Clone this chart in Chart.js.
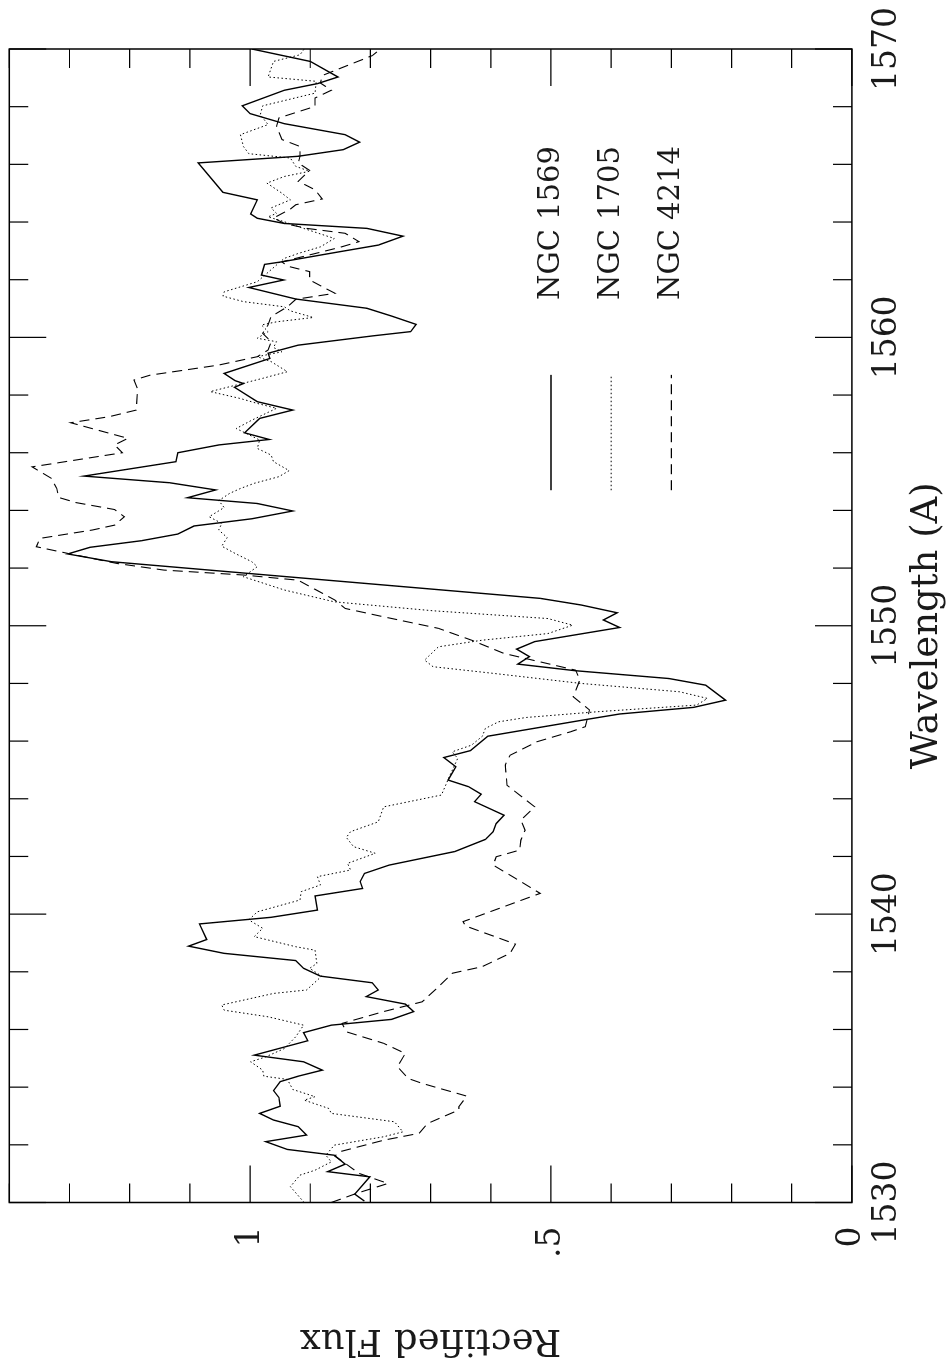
<!DOCTYPE html>
<html>
<head>
<meta charset="utf-8">
<title>Rectified Flux vs Wavelength</title>
<script src="https://cdn.jsdelivr.net/npm/chart.js@4.4.1/dist/chart.umd.min.js"></script>
<style>
  html, body { margin: 0; padding: 0; background: #fff; overflow: hidden; }
  #page { position: relative; width: 951px; height: 1367px; overflow: hidden; }
  /* the figure is drawn landscape and turned a quarter turn counter-clockwise */
  #spec { position: absolute; left: 0; top: 0; width: 1367px; height: 951px;
          transform-origin: 0 0; transform: translateY(1367px) rotate(-90deg); }
</style>
</head>
<body>
<div id="page"><canvas id="spec" width="1367" height="951"></canvas></div>
<script>
  'use strict';

  // Axis ticks
  const waveTicks = [1530, 1540, 1550, 1560, 1570];
  const fluxTicks = [0, 0.5, 1];
  const fluxTickText = ['0', '.5', '1'];

  // Series names
  const seriesNames = ['NGC 1569', 'NGC 1705', 'NGC 4214'];

  // NGC 1569 (solid)
  const wave1569 = [1530.05, 1530.29, 1530.89, 1531.07, 1531.33, 1531.64, 1531.84, 1532.11, 1532.34, 1532.63,
    1532.86, 1533.09, 1533.34, 1533.64, 1533.88, 1534.19, 1534.38, 1534.59, 1534.88, 1535.11,
    1535.61, 1535.89, 1536.15, 1536.35, 1536.62, 1536.88, 1537.14, 1537.37, 1537.62, 1537.85,
    1538.12, 1538.39, 1538.64, 1538.89, 1539.12, 1539.66, 1539.89, 1540.14, 1540.63, 1540.89,
    1541.13, 1541.41, 1541.70, 1542.17, 1542.59, 1542.86, 1543.14, 1543.43, 1543.90, 1544.16,
    1544.42, 1544.65, 1545.11, 1545.43, 1545.67, 1546.17, 1546.75, 1546.94, 1547.17, 1547.42,
    1547.94, 1548.17, 1548.44, 1548.67, 1548.93, 1549.19, 1549.45, 1549.94, 1550.20, 1550.45,
    1550.72, 1550.95, 1552.22, 1552.49, 1552.72, 1552.95, 1553.18, 1553.46, 1553.71, 1553.98,
    1554.24, 1554.44, 1554.71, 1554.96, 1555.19, 1555.69, 1556.00, 1556.27, 1556.46, 1556.69,
    1557.19, 1557.48, 1557.77, 1558.27, 1558.40, 1558.50, 1558.75, 1559.27, 1559.45, 1559.73,
    1560.05, 1560.20, 1560.45, 1560.74, 1561.01, 1561.33, 1561.73, 1561.99, 1562.16, 1562.53,
    1562.62, 1562.97, 1563.20, 1563.51, 1563.78, 1563.95, 1564.13, 1564.28, 1564.77, 1565.03,
    1566.05, 1566.28, 1566.51, 1566.77, 1567.03, 1567.41, 1567.76, 1568.03, 1568.57, 1568.80,
    1569.03, 1569.57, 1570.00];
  const flux1569 = [0.81, 0.826, 0.801, 0.871, 0.842, 0.86, 0.938, 0.974, 0.906, 0.92,
    0.961, 0.984, 0.95, 0.952, 0.961, 0.95, 0.92, 0.88, 0.911, 0.993,
    0.904, 0.911, 0.865, 0.765, 0.728, 0.742, 0.807, 0.787, 0.797, 0.883,
    0.911, 0.924, 1.043, 1.102, 1.072, 1.084, 0.965, 0.888, 0.892, 0.813,
    0.817, 0.81, 0.769, 0.66, 0.609, 0.596, 0.591, 0.578, 0.627, 0.616,
    0.637, 0.671, 0.658, 0.678, 0.634, 0.605, 0.441, 0.386, 0.263, 0.21,
    0.243, 0.304, 0.459, 0.555, 0.536, 0.557, 0.527, 0.386, 0.413, 0.39,
    0.45, 0.518, 1.23, 1.303, 1.266, 1.18, 1.12, 1.093, 0.997, 0.929,
    0.988, 1.104, 1.057, 1.134, 1.276, 1.123, 1.12, 1.052, 0.968, 1.009,
    0.984, 0.929, 0.988, 1.026, 1.011, 1.025, 1.043, 0.967, 0.97, 0.92,
    0.797, 0.733, 0.724, 0.765, 0.806, 0.924, 1.002, 0.944, 0.981, 0.976,
    0.947, 0.851, 0.787, 0.746, 0.806, 0.943, 0.988, 0.999, 0.988, 1.045,
    1.086, 0.92, 0.845, 0.818, 0.842, 0.943, 1.0, 1.013, 0.943, 0.888,
    0.854, 0.90, 0.997];

  // NGC 1705 (dotted)
  const wave1705 = [1530.00, 1530.55, 1530.95, 1531.12, 1531.41, 1531.64, 1531.99, 1532.28, 1532.45, 1532.80,
    1533.09, 1533.26, 1533.55, 1533.67, 1533.92, 1534.27, 1534.38, 1534.59, 1534.88, 1535.05,
    1535.34, 1535.75, 1536.15, 1536.44, 1536.67, 1536.85, 1537.25, 1537.37, 1537.85, 1538.12,
    1538.29, 1538.75, 1538.87, 1539.22, 1539.51, 1539.80, 1540.08, 1540.49, 1540.78, 1541.01,
    1541.30, 1541.53, 1541.76, 1542.11, 1542.34, 1542.66, 1542.86, 1543.20, 1543.72, 1544.13,
    1544.76, 1545.40, 1545.63, 1545.86, 1546.17, 1546.44, 1546.67, 1546.82, 1547.02, 1547.25,
    1547.48, 1547.71, 1548.00, 1548.35, 1548.58, 1548.81, 1549.27, 1549.50, 1549.73, 1550.02,
    1550.25, 1550.52, 1550.83, 1551.24, 1551.70, 1552.05, 1552.22, 1552.51, 1552.76, 1553.06,
    1553.32, 1553.55, 1553.78, 1554.10, 1554.34, 1554.59, 1554.76, 1554.94, 1555.17, 1555.38,
    1555.69, 1555.92, 1556.15, 1556.44, 1556.84, 1557.13, 1557.54, 1557.71, 1557.88, 1558.12,
    1558.58, 1558.81, 1559.16, 1559.33, 1559.50, 1559.65, 1559.85, 1559.97, 1560.20, 1560.43,
    1560.54, 1560.69, 1560.92, 1561.06, 1561.24, 1561.43, 1561.58, 1561.93, 1562.51, 1562.74,
    1562.91, 1563.14, 1563.43, 1563.78, 1564.01, 1564.18, 1564.30, 1564.49, 1564.77, 1565.00,
    1565.35, 1565.58, 1565.76, 1565.93, 1566.22, 1566.37, 1566.62, 1567.03, 1567.38, 1567.72,
    1568.03, 1568.47, 1568.88, 1569.03, 1569.57, 1569.80, 1570.00];
  const flux1705 = [0.91, 0.933, 0.917, 0.892, 0.865, 0.874, 0.86, 0.778, 0.746, 0.76,
    0.865, 0.869, 0.91, 0.892, 0.929, 0.938, 0.977, 0.979, 0.999, 0.974,
    0.943, 0.924, 0.911, 0.97, 1.043, 1.047, 0.961, 0.906, 0.881, 0.901,
    0.889, 0.892, 0.924, 0.993, 0.979, 1.002, 0.988, 0.917, 0.915, 0.883,
    0.888, 0.833, 0.838, 0.792, 0.828, 0.84, 0.833, 0.787, 0.778, 0.682,
    0.669, 0.655, 0.664, 0.632, 0.614, 0.609, 0.587, 0.541, 0.422, 0.258,
    0.24, 0.286, 0.45, 0.596, 0.696, 0.71, 0.687, 0.614, 0.505, 0.464,
    0.505, 0.696, 0.86, 0.943, 1.011, 0.988, 0.997, 1.025, 1.047, 1.038,
    1.052, 1.047, 1.068, 1.043, 1.052, 1.034, 1.016, 0.993, 0.952, 0.935,
    0.961, 0.965, 0.988, 0.984, 1.023, 0.997, 0.956, 0.988, 1.016, 1.066,
    0.979, 0.938, 0.965, 0.988, 0.947, 0.961, 0.956, 0.988, 0.97, 0.981,
    0.956, 0.895, 0.933, 0.943, 1.011, 1.045, 1.043, 0.988, 0.956, 0.943,
    0.92, 0.883, 0.86, 0.911, 0.943, 0.97, 0.956, 0.965, 0.933, 0.947,
    0.972, 0.943, 0.901, 0.924, 0.933, 1.002, 1.011, 1.016, 0.97, 0.983,
    0.979, 0.892, 0.89, 0.97, 0.961, 0.917, 0.91];

  // NGC 4214 (dashed)
  const wave4214 = [1530.00, 1530.31, 1530.66, 1531.01, 1531.30, 1531.61, 1531.76, 1532.16, 1532.40, 1532.74,
    1533.21, 1533.32, 1533.69, 1534.13, 1534.30, 1534.71, 1535.17, 1535.52, 1535.92, 1536.21,
    1536.62, 1536.96, 1537.48, 1537.95, 1538.18, 1538.64, 1538.96, 1539.59, 1539.74, 1540.26,
    1540.72, 1541.24, 1541.70, 1541.99, 1542.22, 1542.57, 1542.91, 1543.26, 1543.72, 1544.47,
    1545.17, 1545.51, 1545.98, 1546.32, 1546.50, 1547.08, 1547.54, 1548.12, 1548.46, 1549.04,
    1549.50, 1549.91, 1550.31, 1550.60, 1550.89, 1551.58, 1551.76, 1551.93, 1552.16, 1552.51,
    1552.74, 1553.03, 1553.32, 1553.49, 1553.78, 1554.03, 1554.27, 1554.45, 1554.76, 1555.11,
    1555.51, 1556.00, 1556.27, 1556.50, 1557.04, 1557.25, 1557.48, 1558.23, 1558.52, 1558.69,
    1559.04, 1559.33, 1559.56, 1559.85, 1560.14, 1560.43, 1560.72, 1561.06, 1561.32, 1561.53,
    1561.99, 1562.28, 1562.47, 1562.62, 1563.12, 1563.32, 1563.61, 1563.78, 1563.95, 1564.14,
    1564.45, 1564.60, 1564.80, 1565.12, 1565.41, 1565.79, 1566.05, 1566.28, 1566.62, 1566.86,
    1567.32, 1567.61, 1568.01, 1568.30, 1568.57, 1568.82, 1569.08, 1569.28, 1569.77, 1570.00];
  const flux4214 = [0.865, 0.824, 0.771, 0.819, 0.838, 0.859, 0.851, 0.778, 0.719, 0.705,
    0.653, 0.653, 0.64, 0.714, 0.737, 0.755, 0.742, 0.778, 0.84, 0.847,
    0.778, 0.714, 0.687, 0.664, 0.614, 0.568, 0.559, 0.642, 0.646, 0.578,
    0.518, 0.559, 0.596, 0.591, 0.552, 0.55, 0.543, 0.55, 0.527, 0.573,
    0.576, 0.568, 0.523, 0.468, 0.443, 0.436, 0.463, 0.452, 0.459, 0.578,
    0.632, 0.687, 0.778, 0.842, 0.859, 0.92, 1.011, 1.143, 1.221, 1.303,
    1.355, 1.349, 1.262, 1.225, 1.209, 1.225, 1.289, 1.318, 1.321, 1.33,
    1.362, 1.212, 1.225, 1.203, 1.298, 1.234, 1.189, 1.187, 1.193, 1.166,
    1.052, 0.988, 0.97, 0.965, 0.979, 0.97, 0.965, 0.938, 0.924, 0.859,
    0.901, 0.901, 0.938, 0.947, 0.851, 0.819, 0.842, 0.906, 0.943, 0.961,
    0.933, 0.924, 0.88, 0.892, 0.92, 0.901, 0.92, 0.917, 0.917, 0.947,
    0.956, 0.952, 0.892, 0.892, 0.865, 0.883, 0.88, 0.856, 0.797, 0.783];

  // Legend placement, in data units
  const legendFlux = [0.5, 0.4, 0.3];
  const legendWave = [1554.7, 1558.7];
  const legendTextWave = 1561.3;

  const FONT = "'DejaVu Serif', 'Liberation Serif', serif";
  const TEXT_COLOR = '#1a1a1a';
  Chart.defaults.font.family = FONT;
  Chart.defaults.color = TEXT_COLOR;

  function toPoints(wave, flux) {
    const n = Math.min(wave.length, flux.length);
    const pts = [];
    for (let i = 0; i < n; i++) pts.push({ x: wave[i], y: flux[i] });
    return pts;
  }

  // Inward tick marks on all four sides, the frame and the key
  const framePlugin = {
    id: 'framePlugin',
    afterDatasetsDraw(chart) {
      const { ctx, chartArea: a, scales } = chart;
      const xs = scales.x, ys = scales.y;
      ctx.save();
      ctx.strokeStyle = '#000';
      ctx.lineWidth = 1.2;
      ctx.beginPath();
      // wavelength ticks every 2 A, long every 10 A
      for (let k = 0; k <= 20; k++) {
        const px = xs.getPixelForValue(1530 + 2 * k);
        const len = k % 5 === 0 ? 37 : 19;
        ctx.moveTo(px, a.bottom); ctx.lineTo(px, a.bottom - len);
        ctx.moveTo(px, a.top); ctx.lineTo(px, a.top + len);
      }
      // flux ticks every 0.1, long every 0.5
      for (let k = 0; k <= 14; k++) {
        const py = ys.getPixelForValue(k / 10);
        const len = k % 5 === 0 ? 37 : 19;
        ctx.moveTo(a.left, py); ctx.lineTo(a.left + len, py);
        ctx.moveTo(a.right, py); ctx.lineTo(a.right - len, py);
      }
      ctx.stroke();
      ctx.lineWidth = 1.5;
      ctx.strokeRect(a.left, a.top, a.right - a.left, a.bottom - a.top);

      // key
      const x0 = xs.getPixelForValue(legendWave[0]);
      const x1 = xs.getPixelForValue(legendWave[1]);
      const xt = xs.getPixelForValue(legendTextWave);
      chart.data.datasets.forEach((ds, i) => {
        const py = ys.getPixelForValue(legendFlux[i]);
        ctx.beginPath();
        ctx.lineWidth = ds.borderWidth;
        ctx.setLineDash(ds.borderDash || []);
        ctx.moveTo(x0, py); ctx.lineTo(x1, py);
        ctx.stroke();
        ctx.setLineDash([]);
        ctx.fillStyle = TEXT_COLOR;
        ctx.font = '29px ' + FONT;
        ctx.textAlign = 'left';
        ctx.textBaseline = 'middle';
        ctx.fillText(ds.label, xt, py);
      });
      ctx.restore();
    }
  };

  new Chart(document.getElementById('spec'), {
    type: 'line',
    data: {
      datasets: [
        { label: seriesNames[0], data: toPoints(wave1569, flux1569),
          borderColor: '#000', borderWidth: 1.4, borderDash: [] },
        { label: seriesNames[1], data: toPoints(wave1705, flux1705),
          borderColor: '#000', borderWidth: 1, borderDash: [1.5, 2.5] },
        { label: seriesNames[2], data: toPoints(wave4214, flux4214),
          borderColor: '#000', borderWidth: 1.1, borderDash: [10, 6] }
      ]
    },
    options: {
      responsive: false,
      animation: false,
      layout: { padding: { left: 0, top: 9.3, right: 49, bottom: 0 } },
      elements: { point: { radius: 0 }, line: { tension: 0, fill: false } },
      plugins: { legend: { display: false }, tooltip: { enabled: false } },
      scales: {
        x: {
          type: 'linear', position: 'bottom', min: 1530, max: 1570,
          grid: { display: false, drawTicks: false }, border: { display: false },
          afterBuildTicks: s => { s.ticks = waveTicks.map(v => ({ value: v })); },
          afterFit: s => { s.height = 99.1; s.paddingLeft = 0; s.paddingRight = 0; },
          ticks: { autoSkip: false, maxRotation: 0, padding: 16, font: { size: 33 },
                   callback: v => String(v) },
          title: { display: true, text: 'Wavelength (A)', font: { size: 37 },
                   padding: { top: 0, bottom: 1 } }
        },
        y: {
          type: 'linear', position: 'left', min: 0, max: 1.4,
          grid: { display: false, drawTicks: false }, border: { display: false },
          afterBuildTicks: s => { s.ticks = fluxTicks.map(v => ({ value: v })); },
          afterFit: s => { s.width = 164.5; s.paddingTop = 0; s.paddingBottom = 0; },
          ticks: { padding: 24, font: { size: 33 },
                   callback: v => fluxTickText[fluxTicks.indexOf(v)] },
          title: { display: true, text: 'Rectified Flux', font: { size: 37 },
                   padding: { top: 5, bottom: 0 } }
        }
      }
    },
    plugins: [framePlugin]
  });
</script>
</body>
</html>
